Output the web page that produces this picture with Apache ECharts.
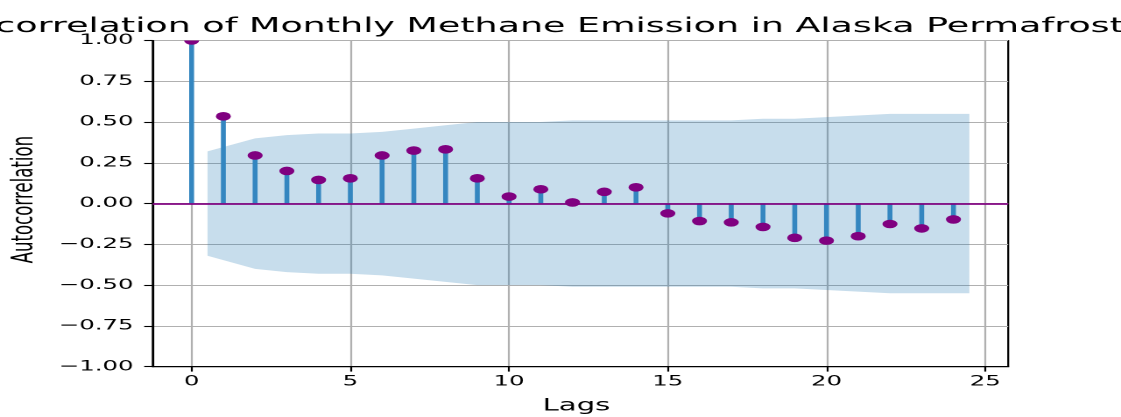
<!DOCTYPE html>
<html>
<head>
<meta charset="utf-8">
<script src="https://cdn.jsdelivr.net/npm/echarts@6/dist/echarts.min.js"></script>
<style>
  html, body { margin: 0; padding: 0; background: #fff; overflow: hidden; width: 1121px; height: 417px; }
  #chart { width: 640px; height: 417px; transform: scaleX(1.7515625); transform-origin: 0 0; }
</style>
</head>
<body>
<div id="chart"></div>
<script>
// ---- data ----
const titleText = 'Autocorrelation of Monthly Methane Emission in Alaska Permafrost';
const xLabel = 'Lags';
const yLabel = 'Autocorrelation';
const lags = [0, 1, 2, 3, 4, 5, 6, 7, 8, 9, 10, 11, 12, 13, 14, 15, 16, 17, 18, 19, 20, 21, 22, 23, 24];
const acfValues = [1.00, 0.535, 0.295, 0.20, 0.145, 0.155, 0.295, 0.325, 0.333, 0.155, 0.043, 0.088, 0.007, 0.072, 0.10,
                   -0.06, -0.107, -0.115, -0.143, -0.21, -0.227, -0.2, -0.125, -0.152, -0.097];
const bandLags = [0.5, 2, 3, 4, 5, 6, 7, 8, 9, 10, 11, 12, 13, 14, 15, 16, 17, 18, 19, 20, 21, 22, 23, 24.5];
const bandUpper = [0.32, 0.40, 0.42, 0.43, 0.43, 0.44, 0.46, 0.48, 0.50, 0.50, 0.50, 0.51, 0.51, 0.51, 0.51, 0.51,
                   0.51, 0.52, 0.52, 0.53, 0.54, 0.55, 0.55, 0.55];
const xTicks = [0, 5, 10, 15, 20, 25];

// ---- chart ----
const FONT = 'DejaVu Sans';
const stemColor = '#3486c0';
const markColor = '#800080';
const gridColor = '#b0b0b0';
const bandColor = 'rgba(31,119,180,0.25)';

const chart = echarts.init(document.getElementById('chart'), null, { renderer: 'canvas', devicePixelRatio: 2 });

const upperData = bandLags.map((x, i) => [x, bandUpper[i]]);
const lowerData = bandLags.map((x, i) => [x, -bandUpper[i]]);
const acfData = lags.map((x, i) => [x, acfValues[i]]);

const option = {
  animation: false,
  backgroundColor: '#fff',
  title: {
    text: titleText,
    left: -51,
    top: 16,
    padding: 0,
    textStyle: { fontFamily: FONT, fontSize: 20.8, fontWeight: 'normal', color: '#000' }
  },
  grid: {
    left: 87.2, right: 64.4, top: 40.5, bottom: 50.3,
    show: true, borderColor: '#000', borderWidth: 1.1, backgroundColor: 'transparent',
    containLabel: false, outerBoundsMode: 'none'
  },
  xAxis: {
    type: 'value', min: -1.225, max: 25.725,
    name: xLabel, nameLocation: 'middle', nameGap: 31,
    nameTextStyle: { fontFamily: FONT, fontSize: 16.6, color: '#000', padding: [0, 4.6, 0, 0] },
    axisLine: { show: true, onZero: false, lineStyle: { color: '#000', width: 1.1 } },
    axisTick: { show: true, customValues: xTicks, length: 4.9, lineStyle: { color: '#000', width: 1.1 } },
    axisLabel: { customValues: xTicks, margin: 8, fontFamily: FONT, fontSize: 13.9, color: '#000' },
    splitLine: { show: true, lineStyle: { color: gridColor, width: 1.1 } }
  },
  yAxis: {
    type: 'value', min: -1, max: 1, interval: 0.25,
    name: yLabel, nameLocation: 'middle', nameGap: 63, nameRotate: 90,
    nameTextStyle: { fontFamily: FONT, fontSize: 16.6, color: '#000', padding: [0, 0, 0, 8] },
    axisLine: { show: true, onZero: false, lineStyle: { color: '#000', width: 1.1 } },
    axisTick: { show: true, length: 4.9, lineStyle: { color: '#000', width: 1.1 } },
    axisLabel: {
      margin: 11, fontFamily: FONT, fontSize: 13.9, color: '#000',
      formatter: v => v.toFixed(2).replace('-', '\u2212')
    },
    splitLine: { show: true, lineStyle: { color: gridColor, width: 1.1 } }
  },
  series: [
    {
      name: 'ciUpper', type: 'line', data: upperData,
      symbol: 'none', lineStyle: { width: 0, opacity: 0 }, silent: true, z: 1,
      areaStyle: { color: bandColor, opacity: 1, origin: 0 }
    },
    {
      name: 'ciLower', type: 'line', data: lowerData,
      symbol: 'none', lineStyle: { width: 0, opacity: 0 }, silent: true, z: 1,
      areaStyle: { color: bandColor, opacity: 1, origin: 0 }
    },
    {
      name: 'acf', type: 'custom', data: acfData, clip: true, z: 3,
      renderItem: (params, api) => {
        const x = api.value(0), y = api.value(1);
        const p0 = api.coord([x, 0]);
        const p1 = api.coord([x, y]);
        return {
          type: 'group',
          children: [
            { type: 'line', shape: { x1: p0[0], y1: p0[1], x2: p1[0], y2: p1[1] },
              style: { stroke: stemColor, lineWidth: 2.8 } },
            { type: 'circle', shape: { cx: p1[0], cy: p1[1], r: 4.3 },
              style: { fill: markColor }, z2: 5 }
          ]
        };
      },
      markLine: {
        silent: true, symbol: 'none', label: { show: false },
        lineStyle: { color: markColor, width: 2, type: 'solid', opacity: 0.85 },
        data: [{ yAxis: 0 }]
      }
    }
  ]
};
chart.setOption(option);
</script>
</body>
</html>
